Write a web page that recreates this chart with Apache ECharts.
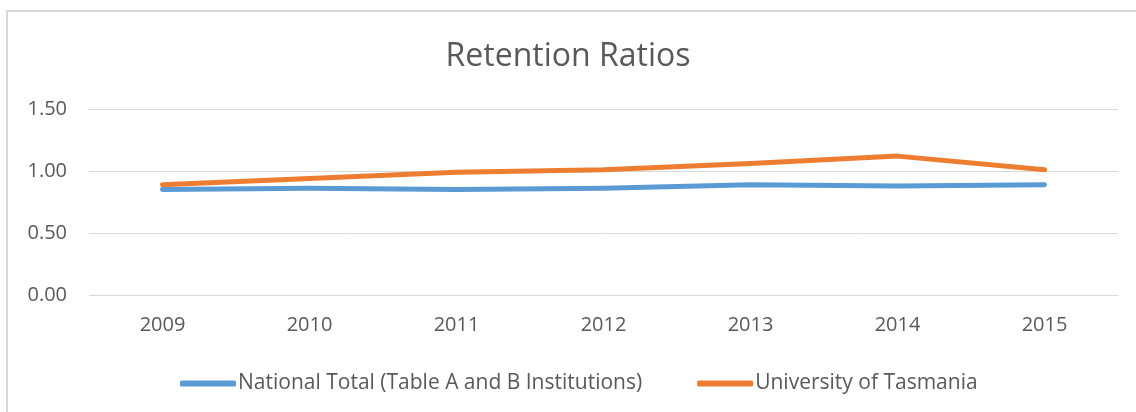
<!DOCTYPE html>
<html>
<head>
<meta charset="utf-8">
<title>Retention Ratios</title>
<script src="https://cdn.jsdelivr.net/npm/echarts@6/dist/echarts.min.js"></script>
<style>
  html, body {
    margin: 0;
    padding: 0;
    width: 1136px;
    height: 412px;
    overflow: hidden;
    background: #fff;
  }
  .frame {
    position: absolute;
    left: 6px;
    top: 10px;
    width: 1300px;
    height: 600px;
    border-left: 2px solid #d9d9d9;
    border-top: 2px solid #d9d9d9;
  }
  #chart {
    position: absolute;
    left: 0;
    top: 0;
    width: 1136px;
    height: 412px;
  }
</style>
</head>
<body>
<div class="frame"></div>
<div id="chart"></div>
<script>
// data
const years = ['2009', '2010', '2011', '2012', '2013', '2014', '2015']
const nationalTotal = [0.85, 0.86, 0.85, 0.86, 0.89, 0.88, 0.89]
const tasmania = [0.89, 0.94, 0.99, 1.01, 1.06, 1.12, 1.01]
const seriesNames = ['National Total (Table A and B Institutions)', 'University of Tasmania']

const textColor = '#595959'
const fontFamily = '"Open Sans", sans-serif'

const chart = echarts.init(document.getElementById('chart'))

const option = {
  animation: false,
  title: {
    text: 'Retention Ratios',
    left: 'center',
    top: 36,
    textStyle: {
      fontSize: 32,
      fontWeight: 'normal',
      color: textColor,
      fontFamily: fontFamily
    }
  },
  legend: {
    top: 368,
    left: 175,
    itemWidth: 56,
    itemHeight: 6,
    itemGap: 55,
    icon: 'roundRect',
    textStyle: {
      fontSize: 21,
      color: textColor,
      fontFamily: fontFamily,
      padding: [0, 0, 0, -3]
    },
    data: seriesNames
  },
  grid: {
    left: 89,
    right: 18,
    top: 109,
    bottom: 117
  },
  xAxis: {
    type: 'category',
    data: years,
    boundaryGap: true,
    axisLine: { show: false },
    axisTick: { show: false },
    axisLabel: {
      margin: 20,
      fontSize: 20,
      color: textColor,
      fontFamily: fontFamily
    }
  },
  yAxis: {
    type: 'value',
    min: 0,
    max: 1.5,
    interval: 0.5,
    axisLine: { show: false },
    axisTick: { show: false },
    axisLabel: {
      margin: 22,
      fontSize: 20,
      color: textColor,
      fontFamily: fontFamily,
      formatter: (v) => v.toFixed(2)
    },
    splitLine: {
      lineStyle: { color: '#d9d9d9', width: 1 }
    }
  },
  series: [
    {
      name: seriesNames[0],
      type: 'line',
      data: nationalTotal,
      showSymbol: false,
      lineStyle: { width: 5, color: '#5b9bd5', cap: 'round', join: 'round' },
      itemStyle: { color: '#5b9bd5' }
    },
    {
      name: seriesNames[1],
      type: 'line',
      data: tasmania,
      showSymbol: false,
      lineStyle: { width: 5, color: '#ed7d31', cap: 'round', join: 'round' },
      itemStyle: { color: '#ed7d31' }
    }
  ]
}

chart.setOption(option)
</script>
</body>
</html>
